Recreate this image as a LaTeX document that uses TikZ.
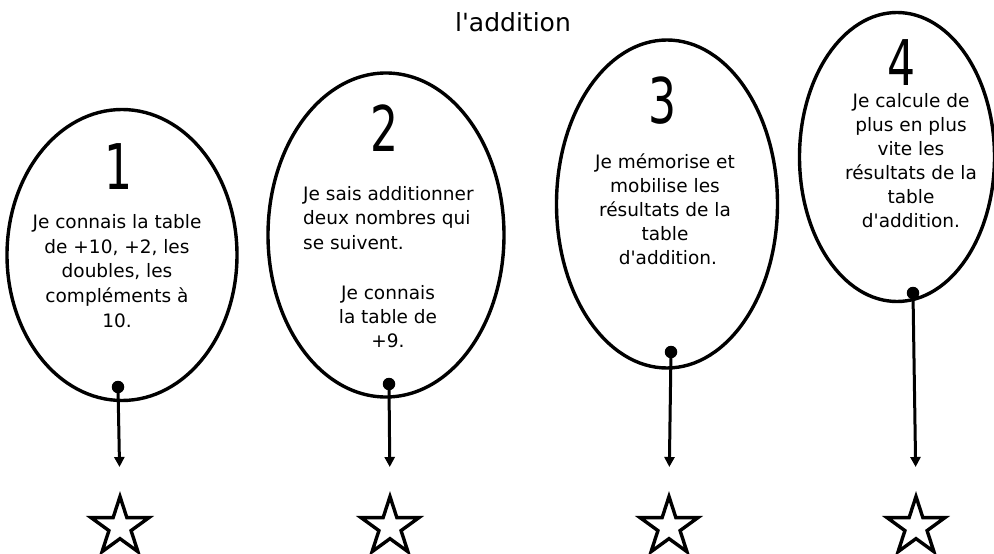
\documentclass[tikz,border=0pt]{standalone}
\usepackage{fontspec}
\setmainfont{DejaVu Sans}[Ligatures=TeXOff]
\usepackage{graphicx}
\usetikzlibrary{shapes.geometric,arrows.meta}
\begin{document}
\begin{tikzpicture}[x=1pt,y=-1pt,
  balloon/.style={ellipse, draw, line width=3.4pt, inner sep=0pt},
  txt/.style={font=\fontsize{18.5}{24}\selectfont, align=center, inner sep=0pt, anchor=base},
  digit/.style={font=\fontsize{63}{63}\selectfont, inner sep=0pt},
  knot/.style={circle, fill, inner sep=0pt, minimum size=12.5pt},
  starnode/.style={star, star points=5, star point ratio=2.618, draw, line width=3.4pt, inner sep=0pt, minimum size=61pt},
  arr/.style={line width=3pt, -{Triangle[length=10pt,width=10pt]}, shorten >=24pt}]
\useasboundingbox (0,0) rectangle (994,554);
\node[font=\fontsize{25}{30}\selectfont, anchor=base, inner sep=0pt] (title) at (513,31) {l'addition};
% balloons
\node[balloon, minimum width=230pt, minimum height=291pt] (b1) at (122,255) {};
\node[balloon, minimum width=236pt, minimum height=324pt] (b2) at (386,235) {};
\node[balloon, minimum width=221pt, minimum height=328pt] (b3) at (667,204) {};
\node[balloon, minimum width=195pt, minimum height=289pt] (b4) at (897,157) {};
% digits
\node[digit] (n1) at (119,167) {\scalebox{0.7}[1]{1}};
\node[digit] (n2) at (385,128) {\scalebox{0.7}[1]{2}};
\node[digit] (n3) at (663,101) {\scalebox{0.7}[1]{3}};
\node[digit] (n4) at (902,63) {\scalebox{0.7}[1]{4}};
% texts (base anchor = baseline of last line)
\node[txt, font=\fontsize{18.5}{24.6}\selectfont] (t1) at (117,327) {Je connais la table\\de +10, +2, les\\doubles, les\\compléments à\\10.};
\node[txt, align=left, anchor=base west, font=\fontsize{18.5}{24.3}\selectfont] (t2a) at (303,249) {Je sais additionner\\deux nombres qui\\se suivent.};
\node[txt] (t2b) at (388,347) {Je connais\\la table de\\+9.};
\node[txt] (t3) at (665,264) {Je mémorise et\\mobilise les\\résultats de la\\table\\\ d'addition.};
\node[txt] (t4) at (911,227) {Je calcule de\\plus en plus\\vite les\\résultats de la\\table\\d'addition.};
% knots, stars, arrows
\node[knot] (d1) at (118,387) {};
\node[knot] (d2) at (389,384) {};
\node[knot] (d3) at (671,352) {};
\node[knot] (d4) at (913,293) {};
\node[starnode] (s1) at (120,527) {};
\node[starnode] (s2) at (390,527) {};
\node[starnode] (s3) at (669,527) {};
\node[starnode] (s4) at (916,527) {};
\draw[arr] (d1.center) -- (s1.north);
\draw[arr] (d2.center) -- (s2.north);
\draw[arr] (d3.center) -- (s3.north);
\draw[arr] (d4.center) -- (s4.north);
\end{tikzpicture}
\end{document}
